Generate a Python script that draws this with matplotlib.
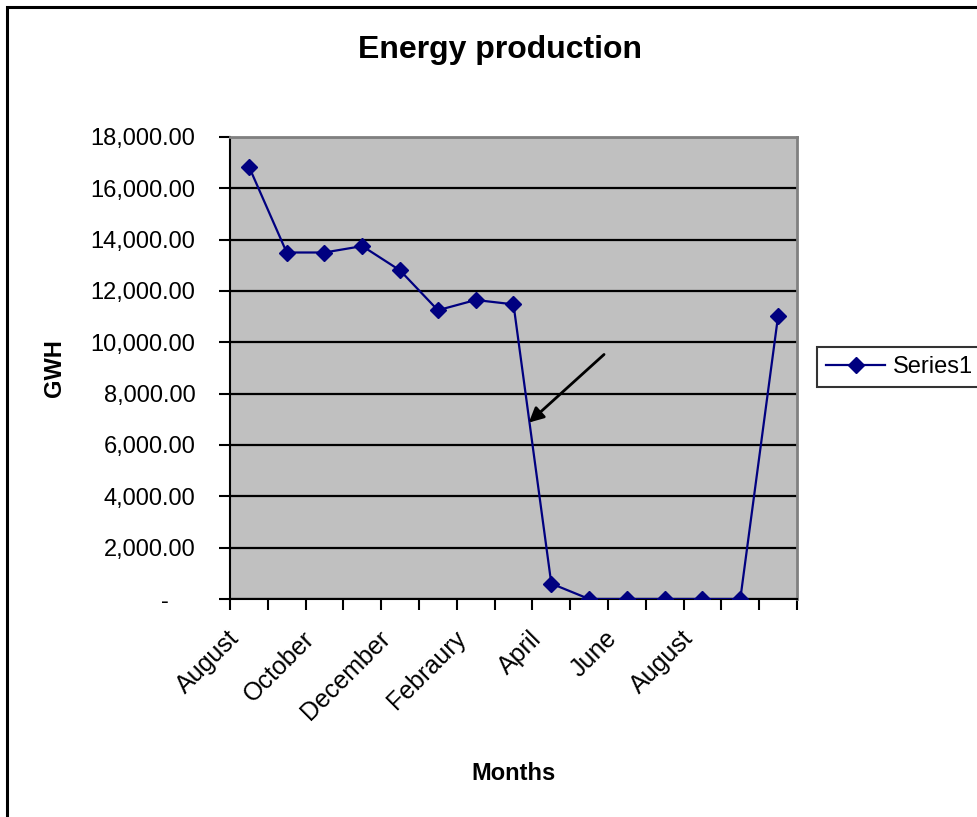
import matplotlib

matplotlib.use("Agg")
import matplotlib.pyplot as plt
import matplotlib.transforms as mtransforms
import numpy as np
from matplotlib.patches import Rectangle
from matplotlib.ticker import FuncFormatter

# data
months = ["August", "September", "October", "November", "December", "January",
          "Febraury", "March", "April", "May", "June", "July", "August",
          "September", "October"]
gwh = [16850, 13500, 13500, 13750, 12800, 11250, 11650, 11480, 600,
       0, 0, 0, 0, 0, 11030]
label_step = 2
last_label = 12
y_ticks = [0, 2000, 4000, 6000, 8000, 10000, 12000, 14000, 16000, 18000]

# arrow annotation (category index, GWH)
arrow_tail = (9.45, 9600)
arrow_head = (7.35, 6800)

plt.rcParams["font.family"] = ["Liberation Sans", "DejaVu Sans"]


def money(v, pos):
    if abs(v) < 1e-9:
        return "-    "
    return f"{v:,.2f}"


fig = plt.figure(figsize=(9.78, 8.17), dpi=100)
fig.patches.append(Rectangle((7 / 978, -0.05), 1.2, 1 - 7 / 817 + 0.05,
                             transform=fig.transFigure, fill=False,
                             edgecolor="black", linewidth=2.2))

ax = fig.add_axes([230 / 978, 1 - 599 / 817, 567 / 978, 462 / 817])
ax.set_facecolor("#C0C0C0")

x = np.arange(len(months))
line, = ax.plot(x, gwh, color="#000080", linewidth=1.6, marker="D",
                markersize=8, markerfacecolor="#000080",
                markeredgecolor="#000080", label="Series1", zorder=3)

ax.set_xlim(-0.5, len(months) - 0.5)
ax.set_ylim(0, 18000)
ax.set_yticks(y_ticks)
ax.yaxis.set_major_formatter(FuncFormatter(money))
ax.grid(axis="y", color="black", linewidth=1.6)
ax.set_axisbelow(True)

ax.set_xticks(np.arange(len(months) + 1) - 0.5)
ax.set_xticklabels([])
shown = list(range(0, last_label + 1, label_step))
ax.set_xticks(shown, minor=True)
ax.set_xticklabels([months[i] for i in shown], minor=True, rotation=45,
                   ha="right", va="top", rotation_mode="anchor", fontsize=18)
ax.tick_params(axis="x", which="minor", length=0, pad=14)
ax.tick_params(axis="x", which="major", length=8, width=1.5, direction="out")
ax.tick_params(axis="y", length=8, width=1.5, direction="out", labelsize=17,
               pad=17)

shift = mtransforms.ScaledTranslation(-22 / 100, -8 / 100, fig.dpi_scale_trans)
for lbl in ax.get_xticklabels(minor=True):
    lbl.set_transform(lbl.get_transform() + shift)

for side in ("top", "right"):
    ax.spines[side].set_color("#808080")
    ax.spines[side].set_linewidth(2)
for side in ("left", "bottom"):
    ax.spines[side].set_color("black")
    ax.spines[side].set_linewidth(1.5)

ax.annotate("", xy=arrow_head, xytext=arrow_tail,
            arrowprops=dict(arrowstyle="-|>", color="black", lw=2,
                            mutation_scale=22))

fig.text(500 / 978, 1 - 50 / 817, "Energy production", ha="center",
         va="center", fontsize=23, fontweight="bold")
fig.text(55 / 978, 1 - 368 / 817, "GWH", ha="center", va="center",
         rotation=90, fontsize=17, fontweight="bold")
fig.text(514 / 978, 1 - 773 / 817, "Months", ha="center", va="center",
         fontsize=17, fontweight="bold")

leg = fig.legend(handles=[line], loc="center left",
                 bbox_to_anchor=(817 / 978, 1 - 367 / 817), fontsize=17,
                 frameon=True, fancybox=False, handlelength=2.5,
                 borderpad=0.4, handletextpad=0.3, borderaxespad=0)
leg.get_frame().set_edgecolor("black")
leg.get_frame().set_linewidth(1.5)

fig.savefig("out.png", dpi=100)
